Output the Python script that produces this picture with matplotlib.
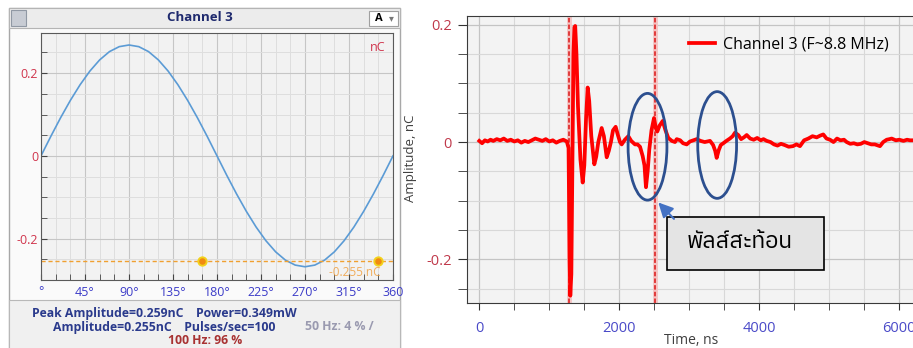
import matplotlib.pyplot as plt
import matplotlib.patches as mpatches
from matplotlib import font_manager
from matplotlib.ft2font import FT2Font
from matplotlib.ticker import MultipleLocator

W, H = 913, 348

# ---- left panel: phase-resolved waveform (Channel 3)
phase_deg = list(range(0, 361, 10))
phase_amp = [0.0, 0.047, 0.092, 0.134, 0.172, 0.205, 0.232, 0.252, 0.264, 0.268,
             0.264, 0.252, 0.232, 0.205, 0.172, 0.134, 0.092, 0.047, 0.0,
             -0.047, -0.092, -0.134, -0.172, -0.205, -0.232, -0.252, -0.264, -0.268,
             -0.264, -0.252, -0.232, -0.205, -0.172, -0.134, -0.092, -0.047, 0.0]
threshold_nc = -0.255
blob_phase = [165, 345]
blob_amp = [-0.255, -0.255]
deg_ticks = [0, 45, 90, 135, 180, 225, 270, 315, 360]
deg_labels = ["°", "45°", "90°", "135°", "180°", "225°", "270°", "315°", "360"]
nc_ticks = [-0.2, 0, 0.2]
nc_labels = ["-0.2", "0", "0.2"]

# ---- right panel: time-domain pulse
time_ns = [0, 40, 80, 120, 160, 200, 250, 300, 350, 400, 450, 500, 550, 600, 650,
           700, 750, 800, 850, 900, 950, 1000, 1050, 1100, 1150, 1200, 1250,
           1275, 1290, 1300, 1315, 1330, 1345, 1358, 1370, 1388, 1410, 1445, 1477,
           1500, 1525, 1548, 1570, 1600, 1643, 1670, 1700, 1748, 1780, 1820, 1850,
           1880, 1910, 1948, 1980, 2010, 2034, 2080, 2129, 2170, 2224, 2260, 2296,
           2334, 2360, 2381, 2405, 2429, 2460, 2496, 2520, 2543, 2575, 2620, 2660,
           2700, 2750, 2796, 2820, 2870, 2910, 2963, 3010, 3060, 3106, 3160, 3220,
           3296, 3340, 3370, 3391, 3420, 3450, 3486, 3530, 3580, 3620, 3653, 3700,
           3740, 3780, 3820, 3870, 3920, 3970, 4020, 4060, 4106, 4160, 4210, 4260,
           4310, 4360, 4420, 4480, 4530, 4581, 4640, 4700, 4760, 4820, 4870, 4914,
           4960, 5010, 5060, 5110, 5160, 5210, 5248, 5300, 5350, 5400, 5450, 5500,
           5550, 5600, 5650, 5700, 5724, 5770, 5820, 5860, 5891, 5950, 6000, 6060,
           6110, 6153, 6200]
amp_nc = [0.002, -0.002, 0.003, 0.001, 0.004, 0.002, 0.005, 0.003, 0.006, 0.002,
          0.004, 0.001, 0.003, -0.001, 0.002, 0.0, 0.003, 0.006, 0.004, 0.002,
          0.005, 0.001, 0.003, -0.001, 0.002, 0.004, 0.001,
          -0.01, -0.20, -0.262, -0.225, -0.03, 0.15, 0.196, 0.198, 0.15, 0.06,
          -0.03, -0.069, -0.04, 0.04, 0.093, 0.07, 0.01, -0.038, -0.025, 0.0,
          0.024, 0.01, -0.026, -0.015, 0.0, 0.02, 0.026, 0.012, 0.0, -0.004,
          0.004, 0.01, 0.002, -0.004, -0.004, -0.008, -0.024, -0.04, -0.077,
          -0.05, -0.012, 0.02, 0.041, 0.025, 0.018, 0.028, 0.036, 0.02, 0.007,
          0.002, 0.0, 0.005, 0.003, -0.002, -0.004, 0.001, 0.003, 0.005, 0.002,
          0.0, 0.002, -0.005, -0.015, -0.027, -0.014, -0.005, -0.002, 0.002,
          0.006, 0.01, 0.016, 0.012, 0.005, 0.008, 0.012, 0.006, 0.004, 0.007,
          0.003, 0.005, 0.002, 0.0, -0.004, -0.006, -0.003, -0.005, -0.008,
          -0.007, -0.004, -0.007, 0.003, 0.006, 0.01, 0.008, 0.011, 0.013, 0.006,
          0.004, 0.0, 0.006, 0.003, 0.004, 0.0, -0.003, -0.002, -0.004, -0.003,
          0.0, -0.002, -0.004, -0.004, -0.006, -0.007, 0.0, 0.004, 0.005, 0.006,
          0.003, 0.004, 0.002, 0.004, 0.003, 0.003]
cursor_ns = [1286, 2510]
ellipse_ns = [2403, 3398]
ellipse_nc = [-0.008, -0.005]
time_ticks = [0, 2000, 4000, 6000]
amp_ticks = [-0.2, 0, 0.2]
note_text = "พัลส์สะท้อน"

plt.rcParams["font.family"] = ["Open Sans", "DejaVu Sans"]


def has_glyphs(path, text):
    try:
        cmap = FT2Font(path).get_charmap()
    except Exception:
        return False
    return all(ord(ch) in cmap for ch in text)


thai_names = sorted({f.name for f in font_manager.fontManager.ttflist
                     if has_glyphs(f.fname, "พลสะทอน")})
thai_family = thai_names[:2] + ["DejaVu Sans"]

fig = plt.figure(figsize=(W / 100, H / 100), dpi=100)

# background "window" drawn in pixel coordinates
bg = fig.add_axes([0, 0, 1, 1])
bg.set_xlim(0, W)
bg.set_ylim(H, 0)
bg.axis("off")
bg.add_patch(mpatches.Rectangle((9, 8), 391, 345, facecolor="#fafafa",
                                edgecolor="#a8a8a8", lw=1))
bg.add_patch(mpatches.Rectangle((9, 8), 391, 20, facecolor="#ececec",
                                edgecolor="#b4b4b4", lw=0.8))
bg.add_patch(mpatches.Rectangle((9, 300), 391, 50, facecolor="#f0f0f0",
                                edgecolor="#b8b8b8", lw=0.8))
bg.add_patch(mpatches.Rectangle((11, 10), 15, 16, facecolor="#c8ccd4",
                                edgecolor="#9098a4", lw=0.8))
bg.add_patch(mpatches.Rectangle((369, 11), 29, 15, facecolor="white",
                                edgecolor="#a0a0a0", lw=0.8))
bg.text(375, 18.5, "A", fontsize=8, fontweight="bold", color="black", va="center")
bg.text(391, 18.5, "▾", fontsize=7, color="#777777", va="center", ha="center",
        family="DejaVu Sans")
bg.text(200, 17.5, "Channel 3", fontsize=9.5, fontweight="bold", color="#1f2a6e",
        ha="center", va="center")
bg.text(32, 313, "Peak Amplitude=0.259nC    Power=0.349mW", fontsize=8.8,
        fontweight="bold", color="#2a3a8c", va="center")
bg.text(53, 327, "Amplitude=0.255nC    Pulses/sec=100", fontsize=8.8,
        fontweight="bold", color="#2a3a8c", va="center")
bg.text(305, 327, "50 Hz: 4 % /", fontsize=8.8, fontweight="bold",
        color="#9a9ab0", va="center")
bg.text(168, 341, "100 Hz: 96 %", fontsize=8.8, fontweight="bold",
        color="#a83232", va="center")

# left chart
ax1 = fig.add_axes([41 / W, 1 - 280 / H, 352 / W, 247 / H])
ax1.set_facecolor("#f2f2f2")
ax1.plot(phase_deg, phase_amp, color="#5b9bd5", lw=1.2)
ax1.axhline(threshold_nc, color="#f0a030", lw=1, ls=(0, (3, 2)))
ax1.scatter(blob_phase, blob_amp, s=55, color="#f2d21c", zorder=5, linewidths=0)
ax1.scatter(blob_phase, blob_amp, s=22, color="#f08a10", zorder=6, linewidths=0)
ax1.text(347, threshold_nc - 0.026, "-0.255 nC", color="#f0a040", fontsize=8.5,
         ha="right", va="center", alpha=0.85)
ax1.text(0.98, 0.94, "nC", transform=ax1.transAxes, color="#d0344c",
         fontsize=9, ha="right", va="center")
ax1.set_xlim(0, 360)
ax1.set_ylim(-0.3, 0.297)
ax1.set_xticks(deg_ticks)
ax1.set_xticklabels(deg_labels)
ax1.set_yticks(nc_ticks)
ax1.set_yticklabels(nc_labels)
ax1.xaxis.set_minor_locator(MultipleLocator(15))
ax1.yaxis.set_minor_locator(MultipleLocator(0.05))
ax1.grid(which="major", color="#c6c6c6", lw=0.8)
ax1.grid(which="minor", color="#dedede", lw=0.7)
ax1.set_axisbelow(True)
ax1.tick_params(which="both", direction="in", length=4, color="#444444")
ax1.tick_params(axis="x", labelsize=9, labelcolor="#3c3cc8", pad=4)
ax1.tick_params(axis="y", labelsize=9, labelcolor="#d0344c", pad=2)
for s in ax1.spines.values():
    s.set_color("#5a5a5a")

# right chart
ax2 = fig.add_axes([466.7 / W, 1 - 303.3 / H, (913 - 466.7) / W, (303.3 - 16) / H])
ax2.set_facecolor("#f3f3f3")
for c in cursor_ns:
    ax2.axvline(c, color="#f4c4c4", lw=3.5, zorder=2)
    ax2.axvline(c, color="#e03030", lw=1.3, ls=(0, (2.5, 1.2)), zorder=3)
ax2.plot(time_ns, amp_nc, color="#ff0000", lw=2.7, solid_joinstyle="round",
         label="Channel 3 (F~8.8 MHz)", zorder=4)
for ex, ey in zip(ellipse_ns, ellipse_nc):
    ax2.add_patch(mpatches.Ellipse((ex, ey), 555, 0.182, fill=False,
                                   edgecolor="#2c4f8f", lw=2, zorder=5))
ax2.add_patch(mpatches.Rectangle((2686, -0.218), 2243, 0.091, facecolor="#e4e4e4",
                                 edgecolor="black", lw=1.2, zorder=6))
ax2.text(3720, -0.170, note_text, family=thai_family, fontsize=16.5,
         ha="center", va="center", color="black", zorder=7)
ax2.annotate("", xy=(2557, -0.103), xytext=(2781, -0.131),
             arrowprops=dict(arrowstyle="-|>", color="#4472c4", lw=1.5,
                             mutation_scale=22, shrinkA=0, shrinkB=0), zorder=7)
ax2.set_xlim(-180, -180 + (913 - 466.7) / 0.07)
ax2.set_ylim(-0.275, 0.215)
ax2.set_xticks(time_ticks)
ax2.set_yticks(amp_ticks)
ax2.set_yticklabels(["-0.2", "0", "0.2"])
ax2.xaxis.set_minor_locator(MultipleLocator(500))
ax2.yaxis.set_minor_locator(MultipleLocator(0.05))
ax2.grid(which="major", color="#c4c4c4", lw=0.9)
ax2.grid(which="minor", color="#d8d8d8", lw=0.8)
ax2.set_axisbelow(True)
ax2.tick_params(which="both", direction="out", color="#333333")
ax2.tick_params(axis="x", which="both", length=5, labelsize=10.5,
                labelcolor="#4a4ac8", pad=8)
ax2.tick_params(axis="y", which="both", length=6.5, labelsize=10.5,
                labelcolor="#c0394b", pad=4)
ax2.spines["right"].set_visible(False)
for s in ("top", "left", "bottom"):
    ax2.spines[s].set_color("#3a3a3a")
ax2.legend(loc="center left", bbox_to_anchor=(689 / W, 1 - 44.7 / H),
           bbox_transform=fig.transFigure, frameon=False, borderpad=0,
           borderaxespad=0, handlelength=1.6, handletextpad=0.5, fontsize=11.5)

fig.text(410 / W, 1 - 158 / H, "Amplitude, nC", rotation=90, fontsize=9.5,
         color="#404040", ha="center", va="center")
fig.text(690.7 / W, 1 - 340 / H, "Time, ns", fontsize=10, color="#404040",
         ha="center", va="center")

fig.savefig("out.png", dpi=100)
